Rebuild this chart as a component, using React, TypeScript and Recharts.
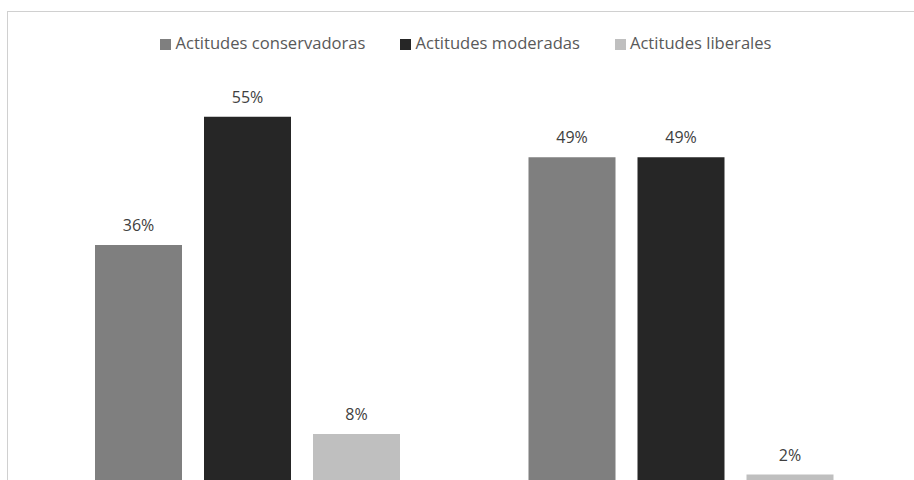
import { Bar, BarChart, LabelList, Legend, XAxis, YAxis } from "recharts"

const categories = ["Grupo A", "Grupo B"]
const seriesNames = ["Actitudes conservadoras", "Actitudes moderadas", "Actitudes liberales"]
const conservadoras = [36, 49]
const moderadas = [55, 49]
const liberales = [8, 2]

const data = categories.map((name, i) => ({
  name,
  conservadoras: conservadoras[i],
  moderadas: moderadas[i],
  liberales: liberales[i],
}))

const font = "'Open Sans', sans-serif"
const pct = (v: any) => `${v}%`

export default function App() {
  return (
    <div style={{ position: "fixed", left: 0, top: 0, width: 914, height: 480, overflow: "hidden", background: "#fff" }}>
      <div
        style={{
          position: "absolute",
          left: 7,
          top: 11,
          width: 1000,
          height: 520,
          border: "1px solid #d0d0d0",
          boxSizing: "border-box",
        }}
      >
        <BarChart
          width={914}
          height={480}
          data={data}
          barGap={22}
          barSize={87}
          margin={{ top: 49, right: 24, bottom: 4, left: 23 }}
          style={{ fontFamily: font }}
        >
          <XAxis dataKey="name" hide />
          <YAxis hide domain={[0, 60]} />
          <Legend
            verticalAlign="top"
            align="center"
            iconType="square"
            iconSize={11}
            itemSorter={(item: any) => seriesNames.indexOf(item.value)}
            wrapperStyle={{ top: 20, fontSize: 16.6, lineHeight: "22px", transform: "translateX(19px)" }}
            formatter={(v) => <span style={{ color: "#595959", marginRight: 25 }}>{v}</span>}
          />
          <Bar dataKey="conservadoras" name={seriesNames[0]} fill="#7f7f7f" isAnimationActive={false}>
            <LabelList dataKey="conservadoras" position="top" offset={14} formatter={pct} fill="#404040" fontSize={16} />
          </Bar>
          <Bar dataKey="moderadas" name={seriesNames[1]} fill="#262626" isAnimationActive={false}>
            <LabelList dataKey="moderadas" position="top" offset={14} formatter={pct} fill="#404040" fontSize={16} />
          </Bar>
          <Bar dataKey="liberales" name={seriesNames[2]} fill="#bfbfbf" isAnimationActive={false}>
            <LabelList dataKey="liberales" position="top" offset={14} formatter={pct} fill="#404040" fontSize={16} />
          </Bar>
        </BarChart>
      </div>
    </div>
  )
}
